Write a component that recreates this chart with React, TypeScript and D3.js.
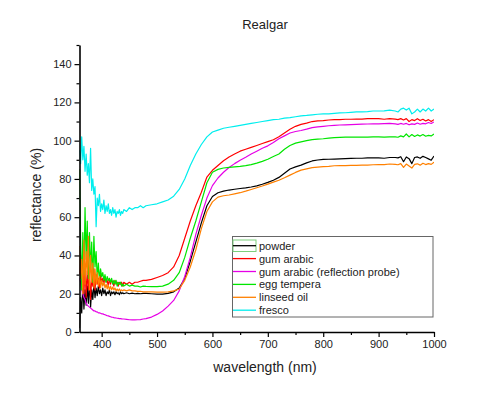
import * as d3 from "d3";
import {useEffect, useRef} from "react";

const wavelengths = [
  360, 362, 364, 366, 368, 370, 372, 374, 376, 378, 380, 382, 384, 386, 388, 390, 392, 394, 396, 398,
  400, 402, 404, 406, 408, 410, 412, 414, 416, 418, 420, 422, 424, 426, 428, 430, 432, 434, 436, 438, 440,
  445, 450, 455, 460, 465, 470, 475, 480,
  490, 500, 510, 520, 530, 540, 550, 560, 570, 580, 590, 600, 610, 620, 630, 640, 650, 660, 670, 680, 690,
  700, 710, 720, 730, 740, 750, 760, 770, 780, 790, 800, 810, 820, 830, 840, 850, 860, 870, 880, 890,
  900, 910, 920, 930, 935, 940, 945, 950, 955, 960, 965, 970, 975, 980, 985, 990, 995, 1000,
];

const powder = [
  2, 18, 10, 25, 12, 22, 14, 24, 15, 26, 13, 22, 17, 25, 18, 23, 19, 24, 20, 22,
  19, 23, 20, 22, 19, 21, 20, 22, 19, 21, 20, 21, 19.5, 21, 20, 20.5, 19.5, 21, 20, 20.5, 20,
  20.5, 20, 20.3, 20, 20.2, 20, 20.2, 20.2,
  20, 19.8, 19.8, 20.2, 21, 23, 28, 37, 47, 57, 66, 70.8, 72.8, 73.6, 74.2, 74.6, 75, 75.3, 75.8, 76.4, 77.2,
  78.2, 79.3, 80.8, 83, 85.2, 86.3, 87.2, 88.4, 89.4, 89.9, 90.2, 90.3, 90.4, 90.5, 90.6, 90.7, 90.8, 90.8, 91, 91,
  91, 90.8, 91.2, 91.2, 91, 91.6, 89, 91.5, 90.6, 88, 91.2, 91.5, 90.8, 91.8, 91.2, 90.5, 89.8, 92,
];

const gumArabic = [
  30, 40, 25, 38, 20, 35, 18, 32, 22, 30, 17, 28, 24, 33, 22, 30, 25, 28, 23, 30,
  26, 28, 25, 29, 26, 27, 24, 28, 25, 27, 26, 24, 27, 25, 26, 24, 26, 25, 26, 24, 26,
  25, 26, 25, 26, 26, 26.5, 27, 27,
  27.5, 28.5, 29.5, 31, 34, 40, 49, 58, 66, 73, 81, 84.5, 87, 89.5, 91.5, 93, 94.5, 95.5, 96.5, 97.5, 98.5,
  99.5, 100.5, 102, 104, 106, 107.5, 108.5, 109.2, 110, 110.3, 110.5, 110.8, 111, 111, 111.2, 111.2, 111.3, 111.3, 111.5, 111.5,
  111.5, 111.2, 111.5, 111.3, 111, 111.5, 110.8, 111.5, 110, 111, 110.5, 111.5, 110.5, 111.2, 110.3, 111, 110, 111,
];

const gumArabicProbe = [
  28, 26, 22, 20, 18, 17, 15, 14, 13.5, 13, 12.5, 12, 11.5, 11, 11, 10.5, 10.5, 10, 10, 9.8,
  9.5, 9.5, 9.2, 9, 8.8, 8.5, 8.4, 8.2, 8, 7.8, 7.7, 7.5, 7.4, 7.3, 7.2, 7.1, 7, 7, 6.9, 6.8, 6.8,
  6.6, 6.4, 6.3, 6.3, 6.4, 6.5, 6.8, 7,
  7.8, 9.2, 11, 13.5, 16.5, 21.5, 29, 39, 51, 61, 70, 76.5, 80.5, 83.5, 86, 88, 89.8, 91.3, 93, 94.5, 96,
  97.3, 99, 101, 102.5, 104, 104.8, 105.3, 106, 106.8, 107.2, 107.5, 107.8, 108, 108.2, 108.3, 108.4, 108.5, 108.6, 108.7, 108.8,
  108.8, 108.9, 109, 108.8, 108.5, 109, 108.6, 109, 108.3, 108.8, 108.5, 109.2, 108.6, 109, 108.8, 109.5, 109, 109.8,
];

const eggTempera = [
  85, 48, 22, 52, 30, 65, 38, 58, 28, 52, 32, 47, 26, 50, 34, 42, 28, 36, 27, 33,
  29, 31, 27, 30, 26, 29, 27, 28, 26, 28, 25, 27, 25, 27, 24, 26, 25, 26, 24, 25, 24,
  25, 24, 24.5, 24, 24, 23.5, 24, 23.8,
  23.7, 23.7, 24, 25, 27, 31, 39, 49, 58, 68, 78, 83.5, 85, 85.7, 86, 86.3, 86.6, 87, 87.5, 88.3, 89.2,
  90.3, 91.7, 93, 95.5, 97.5, 98.7, 99.4, 100, 100.5, 100.8, 101, 101.3, 101.6, 101.7, 101.8, 101.8, 101.8, 101.8, 101.8, 102,
  102, 101.8, 102, 102, 101.8, 102.5, 102, 103.5, 102, 103.2, 102.2, 103, 102.4, 103.2, 102.3, 102.8, 102.5, 103.5,
];

const linseedOil = [
  45, 28, 38, 20, 48, 25, 42, 30, 50, 22, 40, 26, 36, 23, 33, 25, 31, 24, 29, 23,
  27, 24, 26, 23, 25, 22.5, 24.5, 22, 24, 22, 23.5, 22, 23, 21.5, 22.5, 21.5, 22.5, 21.5, 22, 21.5, 22,
  21.5, 22, 21.5, 21.5, 21.2, 21.3, 21, 21,
  21, 20.8, 20.8, 21, 21.5, 22.5, 27, 34, 43, 54, 63, 68, 70.5, 71.2, 71.6, 72.2, 72.8, 73.6, 74.5, 75.4, 76.3,
  77.3, 78.3, 79.3, 80.6, 82, 83.4, 84.6, 85.3, 85.9, 86.2, 86.4, 86.6, 86.9, 87, 87, 87.1, 87.1, 87.2, 87.2, 87.4,
  87.5, 87.5, 87.8, 87.6, 87.4, 88, 86, 87.8, 86.8, 85.7, 87.6, 87.9, 87.2, 88.2, 87.5, 88, 87.6, 88.8,
];

const fresco = [
  95, 88, 102, 90, 97, 84, 93, 82, 88, 78, 96, 74, 80, 72, 76, 55, 70, 66, 72, 63,
  67, 64, 69, 62, 66, 63, 67, 62, 64, 61, 65, 62, 64, 60, 63, 62, 64, 61, 63, 62, 64,
  63, 65, 64, 65, 65, 66, 65, 66,
  66.5, 67, 68, 69, 71, 74.5, 80, 87, 93, 98, 102, 104.5, 105.5, 106.5, 107, 107.5, 108, 108.5, 109, 109.5, 110,
  110.5, 111, 111.2, 111.8, 112, 112.5, 113, 113.2, 113.5, 113.8, 114, 114, 114.3, 114.5, 114.6, 114.8, 115, 115, 115.2, 115.5,
  115.5, 115.6, 116, 115.5, 115, 116.5, 117, 116, 117, 114, 115, 116.5, 115, 116.5, 115.5, 117, 115.5, 116.5,
];

const seriesNames = ["powder", "gum arabic", "gum arabic (reflection probe)", "egg tempera", "linseed oil", "fresco"];
const seriesValues = [powder, gumArabic, gumArabicProbe, eggTempera, linseedOil, fresco];
const seriesColors = ["#000000", "#ff0000", "#e600e6", "#00e600", "#ff8000", "#00eeee"];

const xTicks = [400, 500, 600, 700, 800, 900, 1000];
const xMinorTicks = [450, 550, 650, 750, 850, 950];
const yTicks = [0, 20, 40, 60, 80, 100, 120, 140];
const yMinorTicks = [10, 30, 50, 70, 90, 110, 130, 150];

const FONT = "'Liberation Sans', Arial, sans-serif";

export default function App() {
  const svgRef = useRef(null);

  useEffect(() => {
    const svg = d3.select(svgRef.current);
    svg.selectAll("*").remove();

    const x = d3.scaleLinear().domain([360, 1000]).range([79.5, 434]);
    const y = d3.scaleLinear().domain([0, 150]).range([332, 45]);

    svg.append("defs").append("clipPath").attr("id", "plot-clip")
      .append("rect").attr("x", 79.5).attr("y", 45).attr("width", 354.5).attr("height", 287);

    const line = d3.line<number>()
      .x((d, i) => x(wavelengths[i]))
      .y(d => y(d));

    const curves = svg.append("g").attr("clip-path", "url(#plot-clip)");
    seriesValues.forEach((vals, k) => {
      curves.append("path")
        .datum(vals)
        .attr("d", line)
        .attr("fill", "none")
        .attr("stroke", seriesColors[k])
        .attr("stroke-width", 1.2)
        .attr("stroke-linejoin", "round");
    });

    // axes
    const fmt = d3.format("d");
    const xAxis = svg.append("g").attr("transform", "translate(0,332)");
    xAxis.call(d3.axisBottom(x).tickValues(xMinorTicks).tickSize(3).tickSizeOuter(0).tickFormat(() => ""));
    xAxis.call(g => g.select(".domain").remove());
    const xMajor = svg.append("g").attr("transform", "translate(0,332)");
    xMajor.call(d3.axisBottom(x).tickValues(xTicks).tickSize(5).tickSizeOuter(0).tickPadding(3).tickFormat(fmt));

    const yAxis = svg.append("g").attr("transform", "translate(79.5,0)");
    yAxis.call(d3.axisLeft(y).tickValues(yMinorTicks).tickSize(3).tickSizeOuter(0).tickFormat(() => ""));
    yAxis.call(g => g.select(".domain").remove());
    const yMajor = svg.append("g").attr("transform", "translate(79.5,0)");
    yMajor.call(d3.axisLeft(y).tickValues(yTicks).tickSize(5).tickSizeOuter(0).tickPadding(3).tickFormat(fmt));

    svg.selectAll(".domain").attr("stroke", "#000").attr("stroke-width", 1.6);
    svg.selectAll(".tick line").attr("stroke", "#000").attr("stroke-width", 1.2);
    svg.selectAll(".tick text")
      .attr("font-family", FONT)
      .attr("font-size", 11)
      .attr("fill", "#222");

    svg.append("text")
      .attr("x", 265).attr("y", 29)
      .attr("text-anchor", "middle")
      .attr("font-family", FONT).attr("font-size", 13).attr("fill", "#222")
      .text("Realgar");

    svg.append("text")
      .attr("x", 265).attr("y", 372)
      .attr("text-anchor", "middle")
      .attr("font-family", FONT).attr("font-size", 14).attr("fill", "#222")
      .text("wavelength (nm)");

    svg.append("text")
      .attr("transform", "translate(41,195) rotate(-90)")
      .attr("text-anchor", "middle")
      .attr("font-family", FONT).attr("font-size", 14).attr("fill", "#222")
      .text("reflectance (%)");

    // legend
    const legend = svg.append("g");
    legend.append("rect")
      .attr("x", 232.5).attr("y", 236.5).attr("width", 200.5).attr("height", 80.5)
      .attr("fill", "#fff").attr("stroke", "#666").attr("stroke-width", 1);
    legend.append("rect")
      .attr("x", 233).attr("y", 240).attr("width", 23).attr("height", 11.5)
      .attr("fill", "none").attr("stroke", "#7ccf7c").attr("stroke-width", 1);
    seriesNames.forEach((name, k) => {
      const yy = 245.7 + k * 12.9;
      legend.append("line")
        .attr("x1", 233).attr("x2", 256).attr("y1", yy).attr("y2", yy)
        .attr("stroke", seriesColors[k]).attr("stroke-width", 1.3);
      legend.append("text")
        .attr("x", 259).attr("y", yy + 4)
        .attr("font-family", FONT).attr("font-size", 11).attr("fill", "#222")
        .text(name);
    });
  }, []);

  return (
    <svg
      ref={svgRef}
      width={500}
      height={394}
      style={{position: "absolute", left: 0, top: 0, background: "#fff"}}
    />
  );
}
